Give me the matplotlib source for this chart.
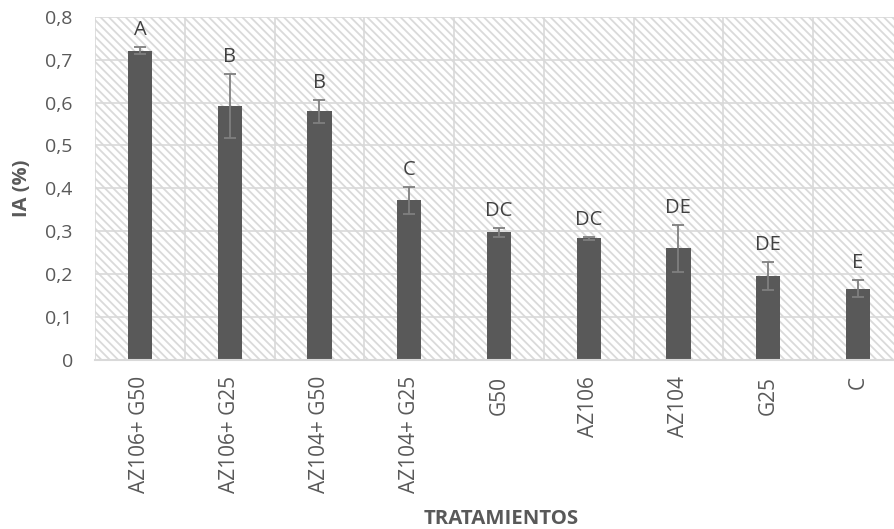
import matplotlib.pyplot as plt
import numpy as np
from matplotlib.patches import Rectangle

# datos: indice IA (%) por tratamiento, con desvio y letras de Tukey
tratamientos = ['AZ106+ G50', 'AZ106+ G25', 'AZ104+ G50', 'AZ104+ G25',
                'G50', 'AZ106', 'AZ104', 'G25', 'C']
ia = [0.721, 0.592, 0.580, 0.372, 0.297, 0.283, 0.260, 0.195, 0.165]
err = [0.008, 0.075, 0.027, 0.032, 0.010, 0.004, 0.055, 0.033, 0.020]
letras = ['A', 'B', 'B', 'C', 'DC', 'DC', 'DE', 'DE', 'E']
yticks = [0, 0.1, 0.2, 0.3, 0.4, 0.5, 0.6, 0.7, 0.8]

plt.rcParams['font.family'] = ['Open Sans', 'DejaVu Sans']
plt.rcParams['hatch.linewidth'] = 1.3

fig = plt.figure(figsize=(8.94, 5.29), dpi=100)
ax = fig.add_axes([0.1063, 0.3204, 0.9035, 0.6474])

x = np.arange(len(tratamientos))

# fondo rayado
bg = Rectangle((0, 0), 1, 1, transform=ax.transAxes, facecolor='white',
               edgecolor='#dadada', linewidth=0, hatch='\\\\\\\\', zorder=0.1)
ax.add_patch(bg)

ax.bar(x, ia, width=0.27, color='#595959', zorder=2)
ax.errorbar(x, ia, yerr=err, fmt='none', ecolor='#7f7f7f', elinewidth=1.3,
            capsize=4.5, capthick=1.3, zorder=3)

for xi, v, e, l in zip(x, ia, err, letras):
    ax.annotate(l, (xi, v + e), xytext=(0, 5), textcoords='offset points',
                ha='center', va='bottom', fontsize=14.5, color='#404040')

ax.set_xlim(-0.5, len(tratamientos) - 0.5)
ax.set_ylim(0, 0.8)
ax.set_yticks(yticks)
ax.set_yticklabels([f'{t:.1f}'.replace('.', ',') if t else '0' for t in yticks])
ax.set_xticks(x)
ax.set_xticklabels(tratamientos, rotation=90)
ax.set_xticks(np.arange(len(tratamientos) + 1) - 0.5, minor=True)

ax.tick_params(axis='both', length=0, labelcolor='#595959')
ax.tick_params(axis='x', which='major', pad=12, labelsize=15)
ax.tick_params(axis='y', pad=16, labelsize=14)
ax.tick_params(axis='x', which='minor', length=0)

ax.set_axisbelow(True)
ax.grid(axis='y', color='#d9d9d9', linewidth=1.2)
ax.grid(axis='x', which='minor', color='#d9d9d9', linewidth=1.2)
ax.grid(axis='x', which='major', visible=False)

for s in ['top', 'right', 'left']:
    ax.spines[s].set_visible(False)
ax.spines['bottom'].set_color('#d9d9d9')
ax.spines['bottom'].set_linewidth(1.5)

fig.text(22 / 894, 0.5 + (529 - 2 * 188) / (2 * 529), 'IA (%)', rotation=90,
         ha='center', va='center', fontsize=14.5, fontweight='bold', color='#595959')
fig.text(501 / 894, (529 - 519) / 529, 'TRATAMIENTOS', ha='center', va='center',
         fontsize=14.7, fontweight='bold', color='#595959')

plt.savefig('out.png', dpi=100)
